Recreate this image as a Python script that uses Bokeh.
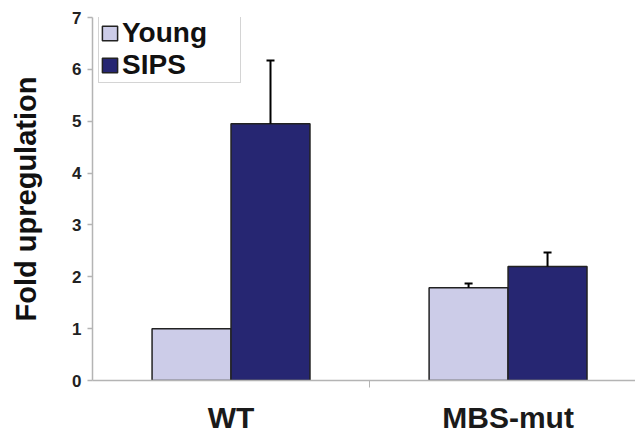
from bokeh.plotting import figure
from bokeh.models import (ColumnDataSource, Range1d, FixedTicker, Whisker, TeeHead,
                          Legend, LegendItem)
from bokeh.embed import file_html
from bokeh.resources import INLINE

# ---- data ----
categories = ["WT", "MBS-mut"]
series = ["Young", "SIPS"]
young = [1.0, 1.79]
young_err = [0.0, 0.08]
sips = [4.95, 2.20]
sips_err = [1.22, 0.27]
y_ticks = [0, 1, 2, 3, 4, 5, 6, 7]

# ---- style ----
young_color = "#ccccE8"
sips_color = "#262672"
outline = "#222222"
axis_gray = "#b4b4b4"
FONT = "Liberation Sans"
offsets = {"Young": -0.1425, "SIPS": 0.1425}
bar_w = 0.285

centers = [i + 0.5 for i in range(len(categories))]

p = figure(frame_width=543, frame_height=363, output_backend="svg",
           toolbar_location=None, x_range=Range1d(0, 1.96), y_range=Range1d(0, 7),
           min_border_left=92, min_border_right=0, min_border_top=17,
           min_border_bottom=40)
p.outline_line_color = None
p.grid.visible = False
p.background_fill_color = "white"

renderers = {}
for name, vals, errs, col in [("Young", young, young_err, young_color),
                              ("SIPS", sips, sips_err, sips_color)]:
    xs = [c + offsets[name] for c in centers]
    src = ColumnDataSource(dict(x=xs, top=vals))
    r = p.vbar(x="x", top="top", width=bar_w, bottom=0, source=src,
               fill_color=col, line_color=outline, line_width=1.5)
    renderers[name] = r
    ex = [x for x, e in zip(xs, errs) if e > 0]
    et = [v for v, e in zip(vals, errs) if e > 0]
    eu = [v + e for v, e in zip(vals, errs) if e > 0]
    esrc = ColumnDataSource(dict(x=ex, lower=et, upper=eu))
    w = Whisker(source=esrc, base="x", lower="lower", upper="upper",
                dimension="height", line_color="black", line_width=2,
                upper_head=TeeHead(size=8, line_width=2, line_color="black"),
                lower_head=None, level="overlay")
    p.add_layout(w)

# x axis
xa = p.xaxis[0]
xa.ticker = FixedTicker(ticks=centers, minor_ticks=[1.0])
xa.major_label_overrides = {c: n for c, n in zip(centers, categories)}
xa.major_tick_line_color = None
xa.minor_tick_line_color = axis_gray
xa.minor_tick_out = 7
xa.minor_tick_in = 0
xa.axis_line_color = axis_gray
xa.axis_line_width = 1.5
xa.major_label_text_font = FONT
xa.major_label_text_font_style = "bold"
xa.major_label_text_font_size = "30px"
xa.major_label_text_color = "#1a1a1a"
xa.major_label_standoff = 13

# y axis
ya = p.yaxis[0]
ya.ticker = FixedTicker(ticks=y_ticks)
ya.minor_tick_line_color = None
ya.major_tick_out = 5
ya.major_tick_in = 0
ya.major_tick_line_color = axis_gray
ya.major_tick_line_width = 1.5
ya.axis_line_color = axis_gray
ya.axis_line_width = 1.5
ya.major_label_text_font = FONT
ya.major_label_text_font_style = "bold"
ya.major_label_text_font_size = "17px"
ya.major_label_text_color = "#222222"
ya.major_label_standoff = 6
ya.axis_label = "Fold upregulation"
ya.axis_label_text_font = FONT
ya.axis_label_text_font_style = "bold"
ya.axis_label_text_font_size = "29px"
ya.axis_label_text_color = "#111111"
ya.axis_label_standoff = 27

legend = Legend(items=[LegendItem(label=n, renderers=[renderers[n]]) for n in series],
                location=(6, 297), orientation="vertical")
legend.title = " "
legend.title_text_font_size = "4px"
legend.title_standoff = 0
legend.border_line_color = "#aaaaaa"
legend.border_line_width = 1.5
legend.background_fill_color = "white"
legend.background_fill_alpha = 1
legend.label_text_font = FONT
legend.label_text_font_style = "bold"
legend.label_text_font_size = "28px"
legend.label_text_color = "#111111"
legend.glyph_width = 19
legend.glyph_height = 18
legend.label_standoff = 3
legend.label_width = 117
legend.padding = 1
legend.spacing = 0
legend.margin = 0
legend.label_height = 30
p.add_layout(legend, "center")

open("out.html", "w").write(file_html(p, INLINE))
